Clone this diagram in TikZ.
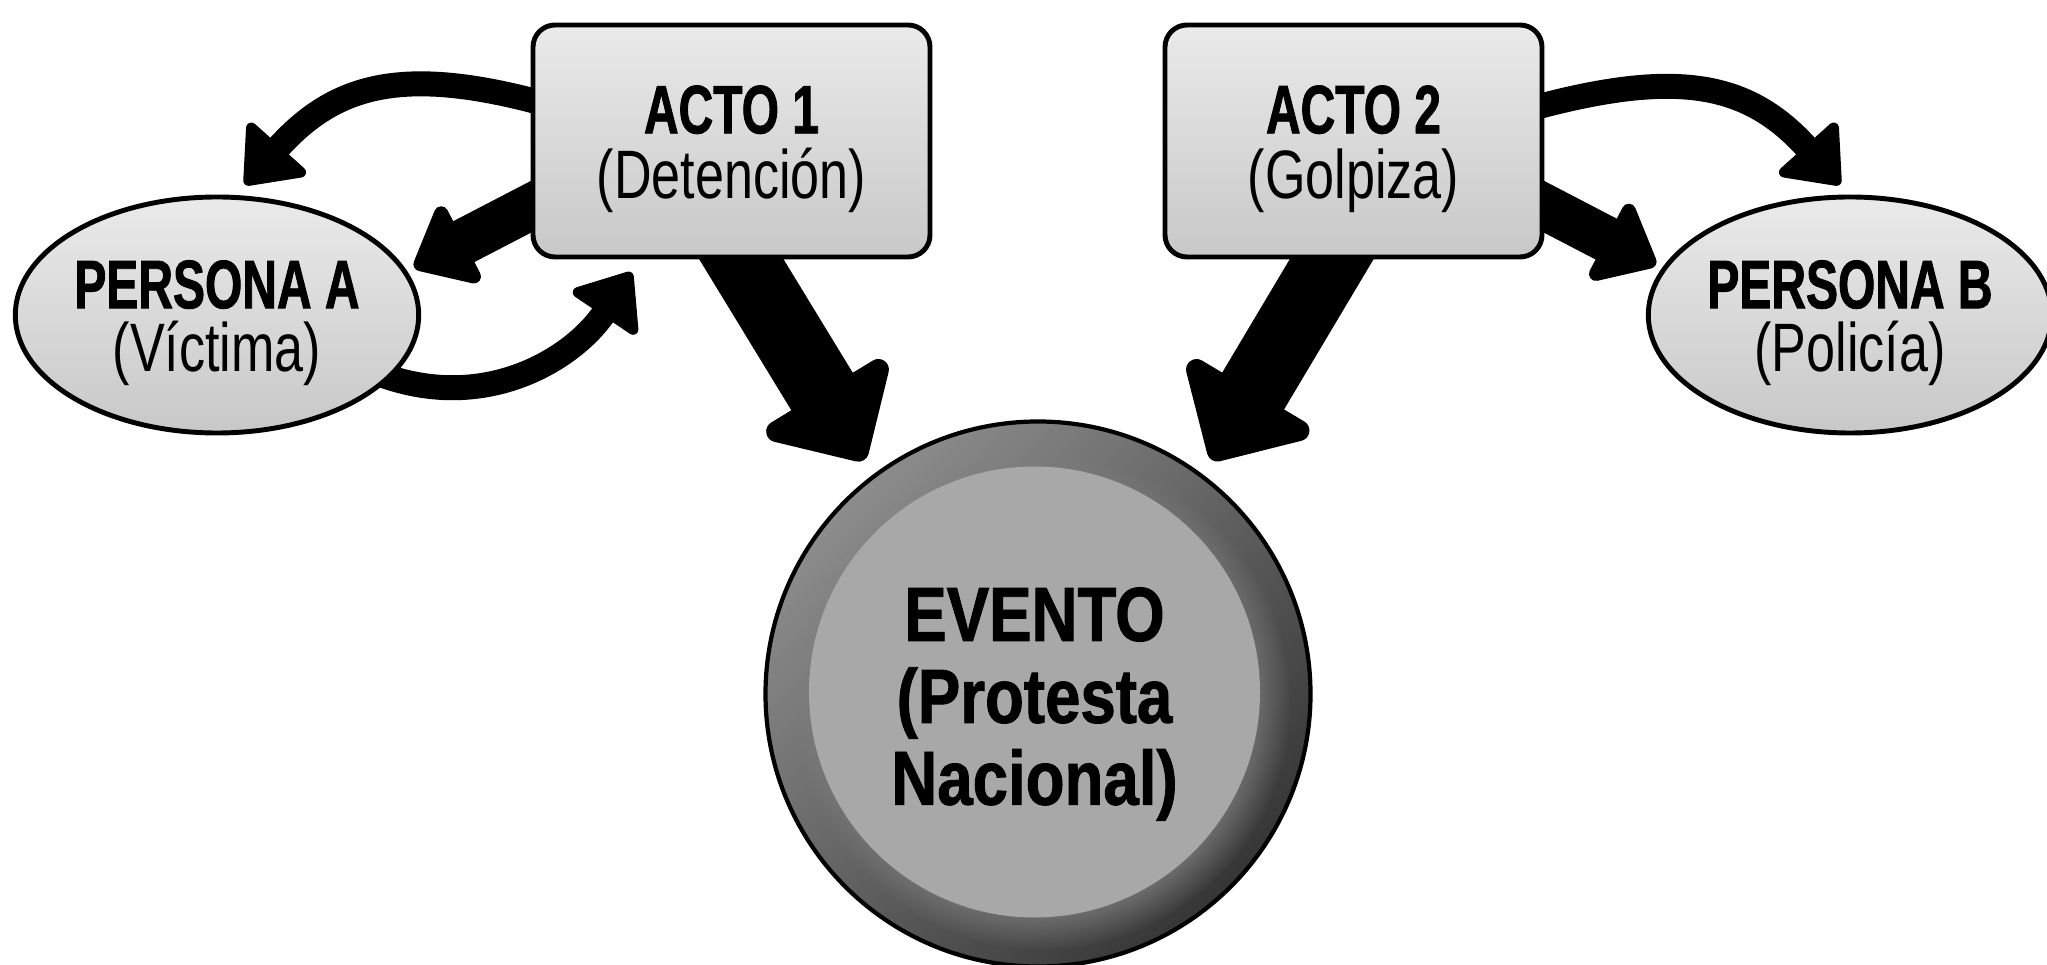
\documentclass[tikz,border=0pt]{standalone}
\usepackage{fontspec}
\newfontfamily\condfont{Liberation Sans}[FakeStretch=0.76,BoldFeatures={FakeStretch=0.70,FakeBold=1.2}]
\newfontfamily\eventfont{Liberation Sans}[FakeStretch=0.83,BoldFeatures={FakeStretch=0.83,FakeBold=1.2}]
\usetikzlibrary{arrows.meta,backgrounds,shadows,shapes.geometric}
\definecolor{paneltop}{HTML}{EAEAEA}
\definecolor{panelbot}{HTML}{C8C8C8}
\definecolor{ringlight}{HTML}{8C8C8C}
\definecolor{ringdark}{HTML}{363636}
\definecolor{disc}{HTML}{A8A8A8}
% title line and subtitle line, set a little low in their shape
\newcommand{\twolines}[2]{\raisebox{-0.08cm}[\height][\depth]{\bfseries #1}\\\raisebox{-0.08cm}[\height][\depth]{#2}}

\begin{document}
\begin{tikzpicture}[
    actbox/.style={draw, line width=1.4pt, rounded corners=0.22cm, top color=paneltop, bottom color=panelbot,
      minimum height=2.32cm, inner sep=0pt, align=center, font=\condfont\fontsize{19.5}{18.5}\selectfont},
    persona/.style={ellipse, draw, line width=1.4pt, top color=paneltop, bottom color=panelbot,
      minimum height=2.36cm, inner sep=0pt, align=center, font=\condfont\fontsize{19.5}{18}\selectfont},
    bigarrow/.style={line width=0.72cm, -{Triangle[length=0.85cm,width=1.65cm,line width=6pt,round]}},
    sidearrow/.style={line width=0.46cm, -{Triangle[length=0.6cm,width=0.98cm,line width=4pt,round]}},
    curvearrow/.style={line width=0.25cm, -{Triangle[length=0.55cm,width=0.86cm,line width=3pt,round]}}
  ]
  \useasboundingbox (0,0) rectangle (20.47,9.64);

  % the two acts
  \node[actbox, minimum width=3.97cm] (acto1) at (7.315,8.23) {\twolines{ACTO 1}{(Detención)}};
  \node[actbox, minimum width=3.77cm] (acto2) at (13.535,8.23) {\twolines{ACTO 2}{(Golpiza)}};

  % the two persons
  \node[persona, minimum width=4.02cm] (persA) at (2.17,6.49) {\twolines{PERSONA A}{(Víctima)}};
  \node[persona, minimum width=3.86cm] (persB) at (18.50,6.49) {\twolines{PERSONA B}{(Policía)}};

  % the event
  \node[circle, draw, line width=1.2pt, minimum size=5.45cm, top color=ringlight, bottom color=ringdark,
    shading angle=45] (evento) at (10.38,2.70) {};
  \node[circle, minimum size=4.51cm, inner sep=0pt, fill=disc,
    circular drop shadow={shadow xshift=0.07cm, shadow yshift=-0.09cm, opacity=0.7}] (eventodisc) at (10.345,2.72) {};
  \node[align=center, font=\eventfont\bfseries\fontsize{21.8}{23.3}\selectfont] (eventolbl)
    at ([yshift=-0.12cm]eventodisc.center) {EVENTO\\(Protesta\\Nacional)};

  \begin{scope}[on background layer]
    \draw[bigarrow, shorten <=-0.3cm, shorten >=0.17cm] ([xshift=0.1cm]acto1.south) -- (evento.127);
    \draw[bigarrow, shorten <=-0.3cm, shorten >=0.17cm] ([xshift=-0.22cm]acto2.south) -- (evento.53);
    \draw[sidearrow, shorten <=-0.3cm, shorten >=0.08cm] ([yshift=-0.66cm]acto1.west) -- (persA.13);
    \draw[sidearrow, shorten <=-0.3cm, shorten >=0.07cm] ([yshift=-0.66cm]acto2.east) -- (persB.166);
    \draw[curvearrow, shorten <=-0.1cm] ([yshift=0.41cm]acto1.west)
      to[out=165, in=48, looseness=1.15] ([xshift=0.28cm,yshift=0.1cm]persA.north);
    \draw[curvearrow, shorten <=-0.1cm] (persA.-20)
      to[out=-20, in=236] ([xshift=-1.0cm,yshift=-0.13cm]acto1.south);
    \draw[curvearrow, shorten <=-0.1cm] ([yshift=0.36cm]acto2.east)
      to[out=15, in=132, looseness=1.15] ([xshift=-0.1cm,yshift=0.1cm]persB.north);
  \end{scope}
\end{tikzpicture}
\end{document}
